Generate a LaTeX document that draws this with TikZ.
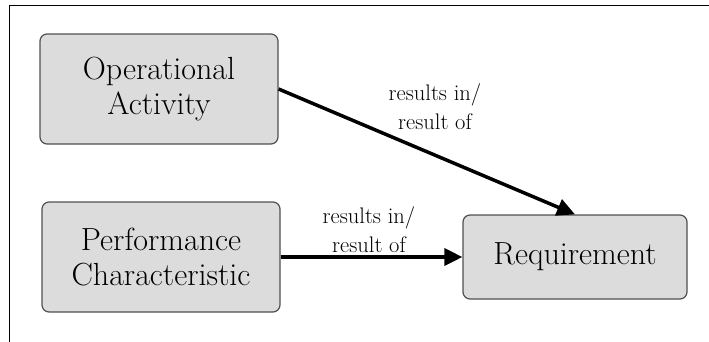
\documentclass[tikz,border=0pt]{standalone}
\usepackage{tikz}
\usetikzlibrary{positioning,arrows.meta}
\definecolor{boxgray}{HTML}{DCDCDC}
\definecolor{edgegray}{HTML}{505050}

\tikzset{
  entity/.style={draw=edgegray, line width=1.2pt, fill=boxgray, rounded corners=7pt,
    align=center, inner sep=0pt, font=\fontsize{32}{35}\selectfont},
  relation/.style={line width=3.5pt, -{Triangle[length=18pt,width=17pt]}},
  rolelabel/.style={align=center, inner sep=0pt, font=\fontsize{22.5}{29}\selectfont}
}

\begin{document}
\begin{tikzpicture}[x=1pt,y=-1pt]
      \useasboundingbox (0,0) rectangle (709,341);
      \begin{scope}
        \clip (0,0) rectangle (709,341);
        \draw[line width=1pt] (9,345) -- (9,5) -- (712,5);
      \end{scope}

      \node[entity, minimum width=238pt, minimum height=110pt] (opact) at (159,89) {Operational\\Activity};
      \node[entity, minimum width=238pt, minimum height=110pt] (perfchar) at (161,257) {Performance\\Characteristic};
      \node[entity, minimum width=224pt, minimum height=84pt] (req) at (575,257) {Requirement};

      \draw[relation] (opact.east) -- (req.north);
      \draw[relation] (perfchar.east) -- (req.west);

      \node[rolelabel] (upperrole) at (435,107) {results in/\\result of};
      \node[rolelabel] (lowerrole) at (369,230) {results in/\\result of};
    \end{tikzpicture}
\end{document}
